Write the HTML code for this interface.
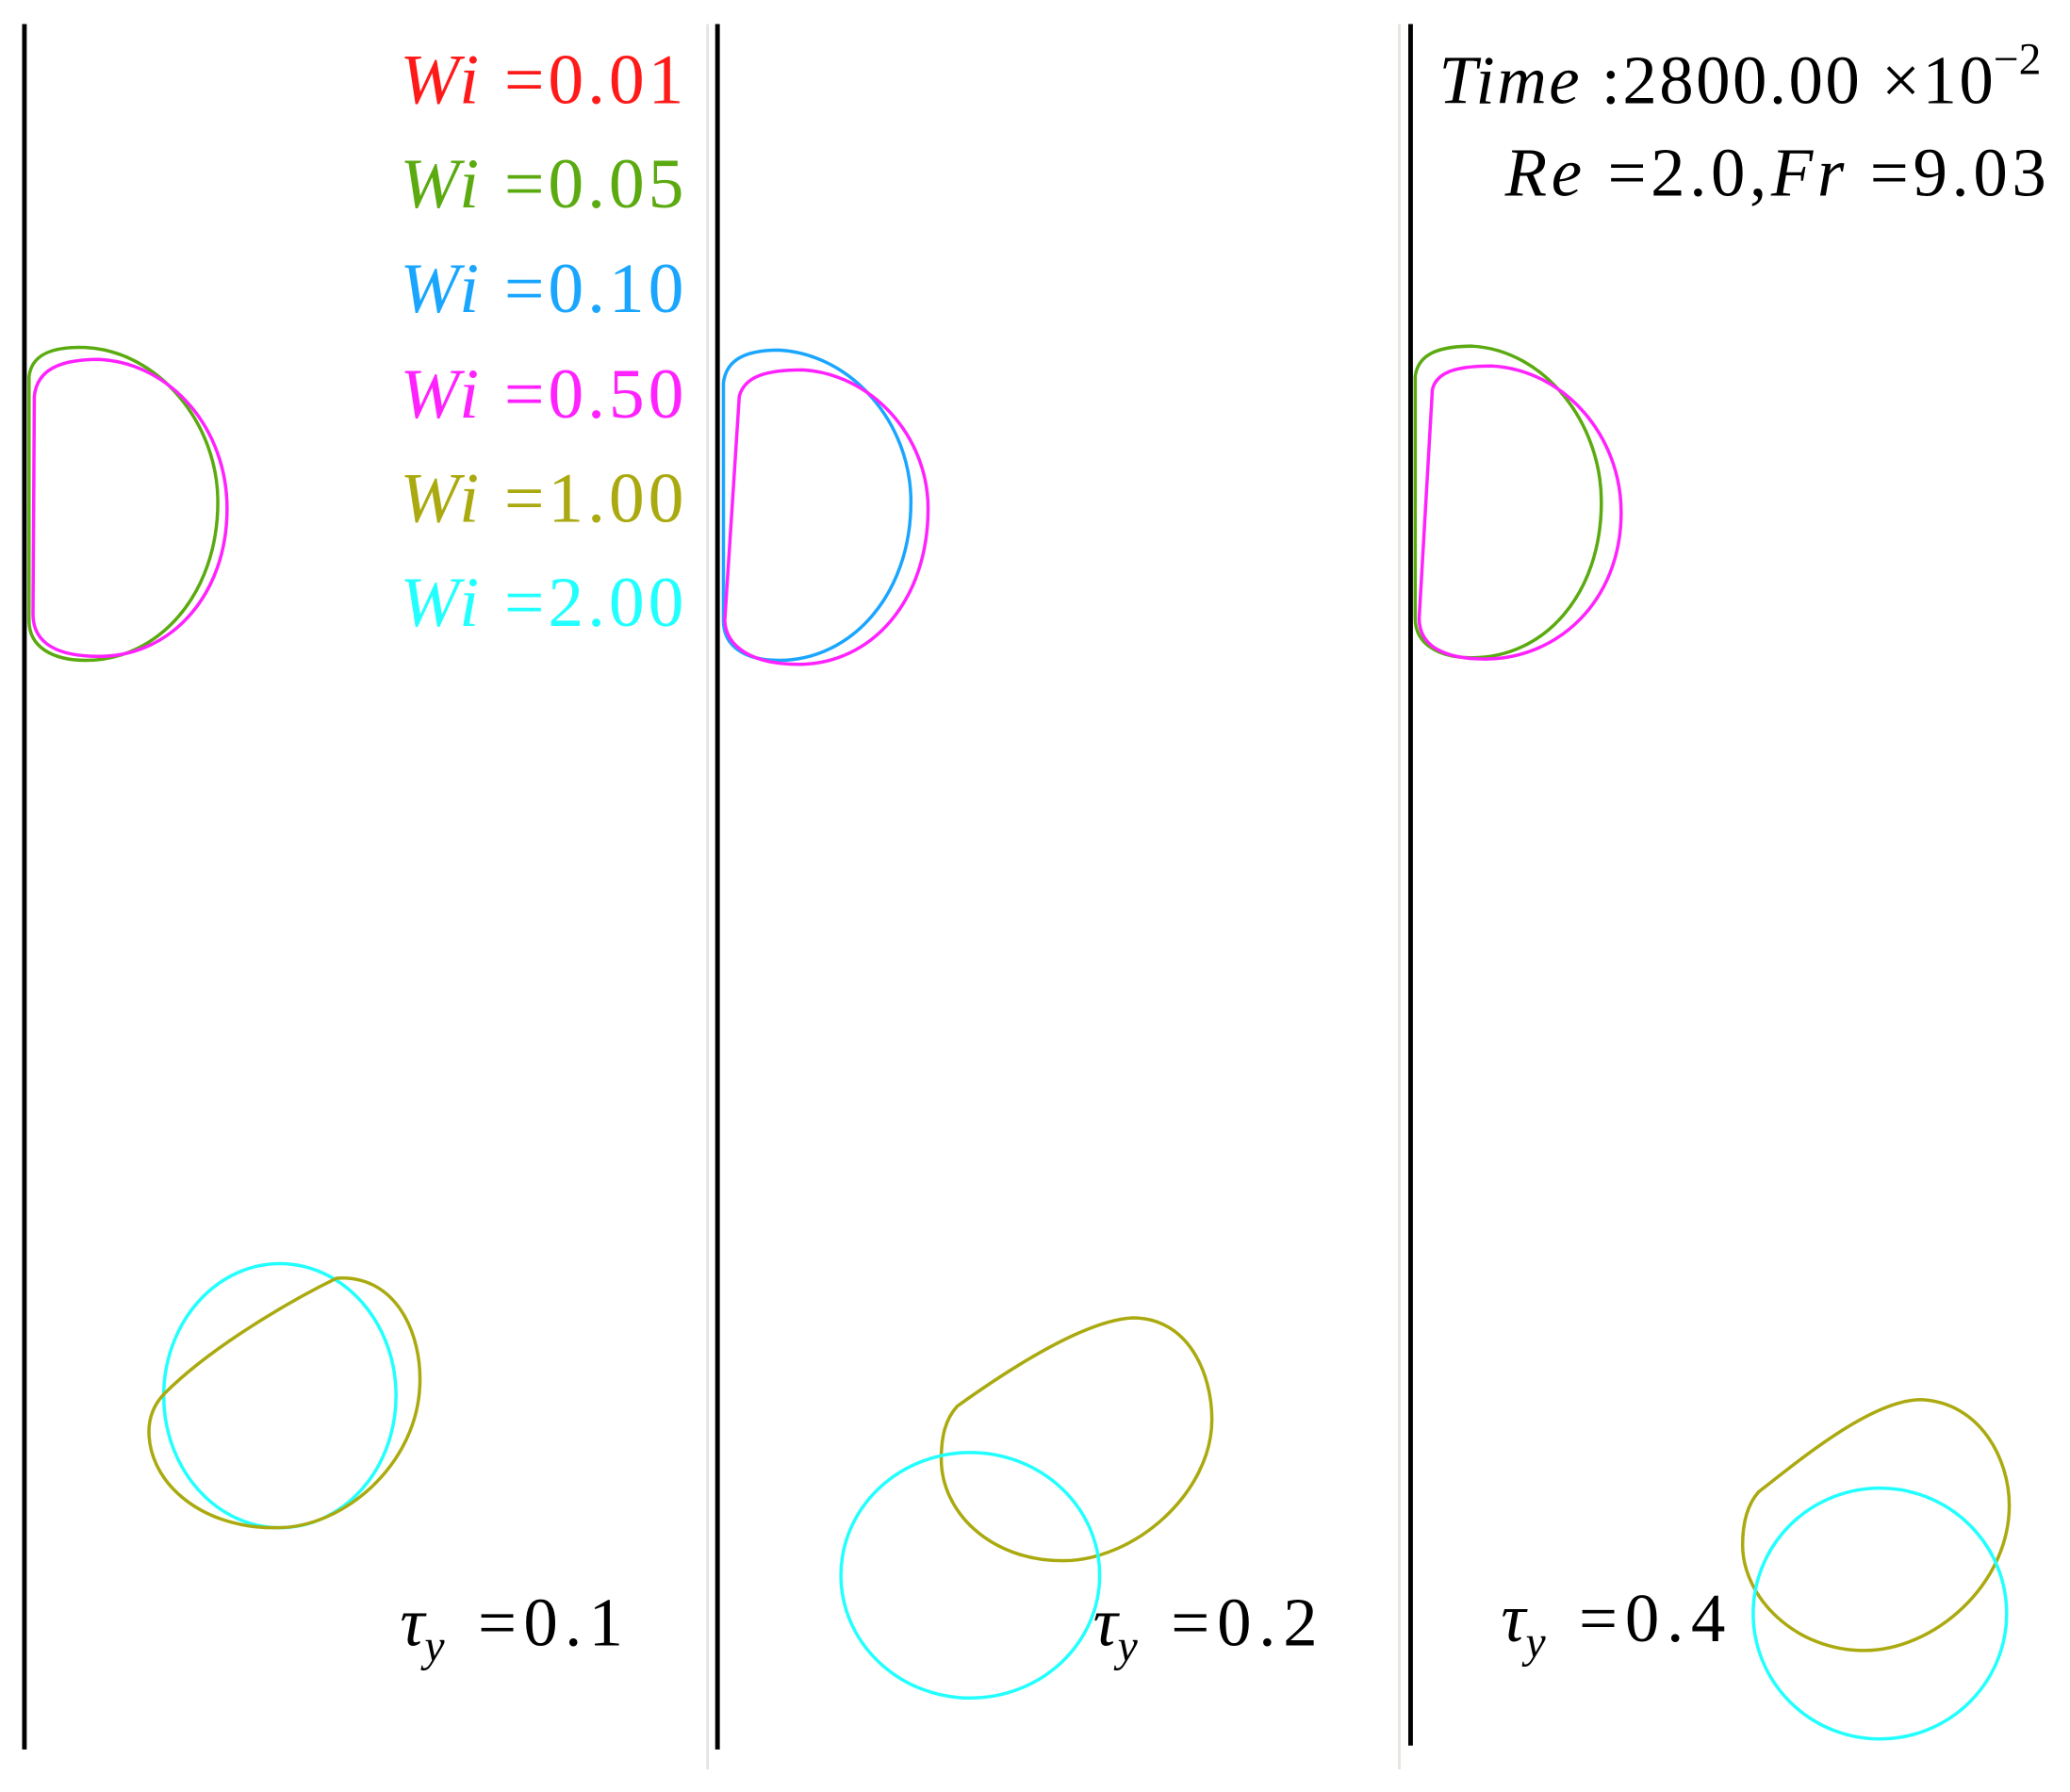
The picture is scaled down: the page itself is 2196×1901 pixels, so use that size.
<!DOCTYPE html>
<html><head><meta charset="utf-8"><style>
html,body{margin:0;padding:0;background:#fff;}
svg{display:block;}
text{font-family:"Liberation Serif",serif;}
</style></head><body>
<svg width="2196" height="1901" viewBox="0 0 1568 1357" xmlns="http://www.w3.org/2000/svg">
<rect width="1568" height="1357" fill="#fff"/>
<line x1="536" y1="18" x2="536" y2="1340" stroke="#e4e4e0" stroke-width="2"/>
<line x1="1060" y1="18" x2="1060" y2="1340" stroke="#e4e4e0" stroke-width="2"/>
<line x1="18.5" y1="18" x2="18.5" y2="1325" stroke="#000" stroke-width="3.5"/>
<line x1="543.5" y1="18" x2="543.5" y2="1325" stroke="#000" stroke-width="3.5"/>
<line x1="1068.5" y1="18" x2="1068.5" y2="1322" stroke="#000" stroke-width="3.5"/>

<g font-size="54">
<text x="303" y="78" fill="#ff1a1a" textLength="215" lengthAdjust="spacing"><tspan font-style="italic">Wi</tspan> =0.01</text>
<text x="303" y="157" fill="#5aaa10" textLength="215" lengthAdjust="spacing"><tspan font-style="italic">Wi</tspan> =0.05</text>
<text x="303" y="236" fill="#1aa6ff" textLength="215" lengthAdjust="spacing"><tspan font-style="italic">Wi</tspan> =0.10</text>
<text x="303" y="316" fill="#ff22ff" textLength="215" lengthAdjust="spacing"><tspan font-style="italic">Wi</tspan> =0.50</text>
<text x="303" y="395" fill="#aaaa10" textLength="215" lengthAdjust="spacing"><tspan font-style="italic">Wi</tspan> =1.00</text>
<text x="303" y="474" fill="#22ffff" textLength="215" lengthAdjust="spacing"><tspan font-style="italic">Wi</tspan> =2.00</text>
</g>
<g font-size="52" fill="#000">
<text x="1090" y="78" textLength="420" lengthAdjust="spacing"><tspan font-style="italic">Time</tspan> :2800.00 ×10</text>
<text x="1510" y="56" font-size="34">−2</text>
<text x="1140" y="148" textLength="410" lengthAdjust="spacing"><tspan font-style="italic">Re</tspan> =2.0,<tspan font-style="italic">Fr</tspan> =9.03</text>
</g>
<g font-size="52" fill="#000">
<text x="303" y="1246"><tspan font-style="italic">τ</tspan><tspan font-size="34" font-style="italic" dy="12">y</tspan></text>
<text x="362" y="1246" textLength="110" lengthAdjust="spacing">=0.1</text>
<text x="828" y="1246"><tspan font-style="italic">τ</tspan><tspan font-size="34" font-style="italic" dy="12">y</tspan></text>
<text x="887" y="1246" textLength="111" lengthAdjust="spacing">=0.2</text>
<text x="1137" y="1243"><tspan font-style="italic">τ</tspan><tspan font-size="34" font-style="italic" dy="12">y</tspan></text>
<text x="1196" y="1243" textLength="111" lengthAdjust="spacing">=0.4</text>
</g>

<g fill="none" stroke-width="2.5">
<path d="M22,285 C24,268 40,262 65,263 C120,266 165,320 165,380 C165,450 120,500 65,500 C40,500 22,490 22,470 Z" stroke="#5aaa10"/>
<path d="M26,300 C28,280 45,272 75,272 C130,275 172,325 172,385 C172,450 130,497 75,497 C45,497 25,488 25,465 Z" stroke="#ff22ff"/>
<path d="M548,290 C550,272 565,265 590,265 C645,268 690,320 690,380 C690,450 645,500 590,500 C565,500 548,490 548,470 Z" stroke="#1aa6ff"/>
<path d="M560,300 C564,285 580,280 608,280 C660,283 703,330 703,385 C703,455 660,503 605,503 C570,503 550,490 549,470 Z" stroke="#ff22ff"/>
<path d="M1072,285 C1074,268 1090,262 1115,262 C1170,265 1213,320 1213,380 C1213,450 1170,498 1115,498 C1090,498 1072,488 1072,468 Z" stroke="#5aaa10"/>
<path d="M1085,295 C1088,282 1102,277 1130,277 C1185,280 1228,330 1228,388 C1228,455 1180,499 1125,499 C1095,499 1075,490 1075,468 Z" stroke="#ff22ff"/>

<ellipse cx="212" cy="1057" rx="88" ry="100" stroke="#22ffff"/>
<path d="M125,1055 C160,1020 220,985 255,968 C300,965 320,1010 318,1050 C315,1110 260,1157 210,1157 C150,1158 110,1120 113,1080 C114,1070 118,1062 125,1055 Z" stroke="#aaaa10"/>
<path d="M725,1065 C760,1040 820,1000 858,998 C900,998 918,1040 918,1075 C918,1130 860,1182 805,1182 C750,1182 713,1145 713,1105 C713,1088 716,1075 725,1065 Z" stroke="#aaaa10"/>
<ellipse cx="735" cy="1193" rx="98" ry="93" stroke="#22ffff"/>
<path d="M1332,1130 C1370,1100 1420,1060 1455,1060 C1500,1062 1522,1105 1522,1140 C1522,1200 1465,1250 1412,1250 C1360,1250 1320,1210 1320,1170 C1320,1150 1325,1138 1332,1130 Z" stroke="#aaaa10"/>
<ellipse cx="1424" cy="1222" rx="96" ry="95" stroke="#22ffff"/>
</g>
</svg>
</body></html>
